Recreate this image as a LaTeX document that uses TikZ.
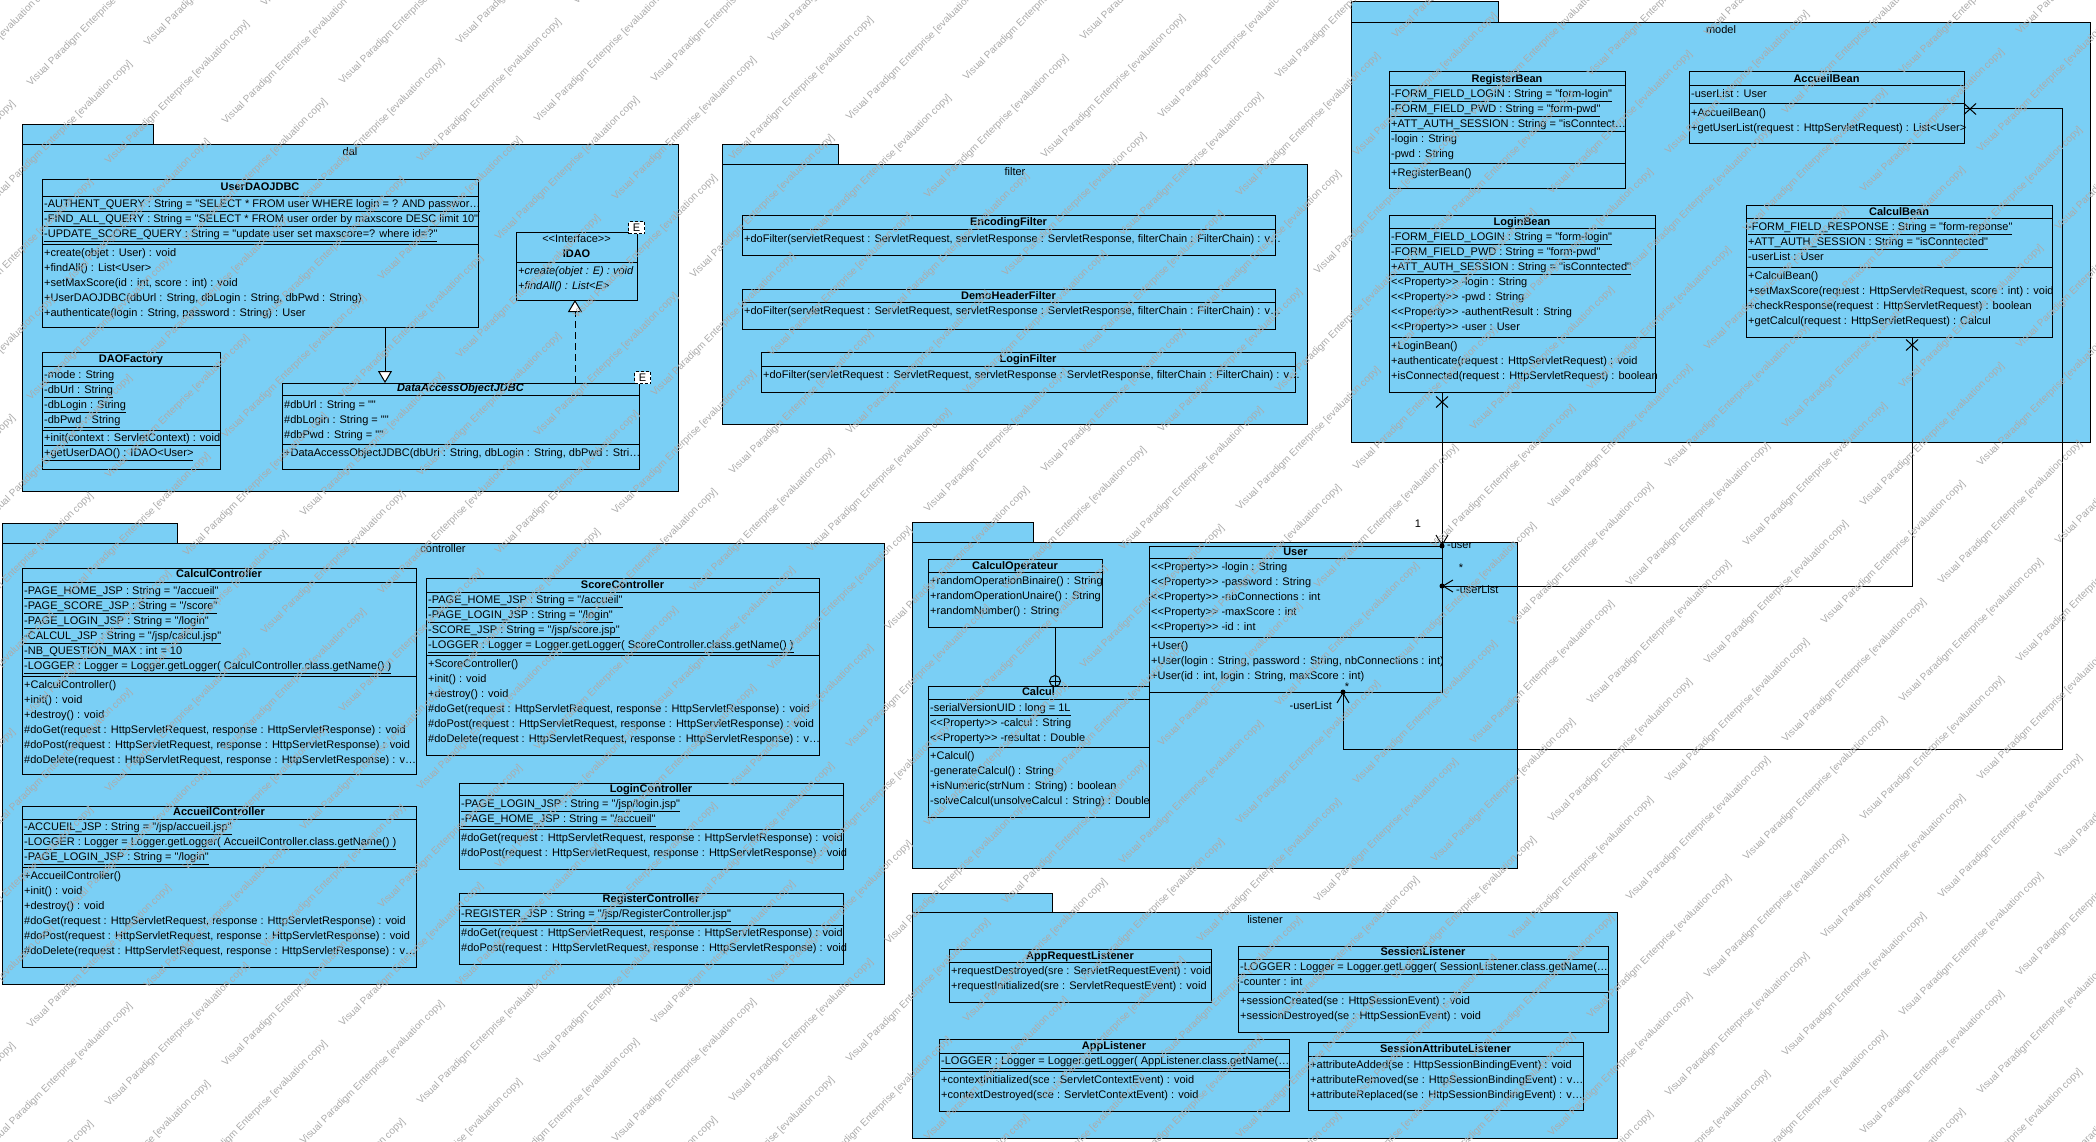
\documentclass[tikz,border=0pt]{standalone}
\usepackage{fontspec}
\setmainfont{Liberation Sans}[Ligatures=TeXOff]
\usetikzlibrary{
  arrows.meta,
  shapes.misc
}
\definecolor{vpblue}{RGB}{122,207,245}
\tikzset{>=Latex,
  txt/.style={inner sep=0pt, font=\fontsize{11}{13}\selectfont, text height=8pt, text depth=2.5pt},
  pkgtab/.style={draw, fill=vpblue, line width=1pt},
  pkgbox/.style={draw, fill=vpblue, line width=1pt, anchor=north west, inner sep=0pt, outer sep=0pt},
  cbox/.style={draw, fill=vpblue, line width=1pt, anchor=north west, inner sep=0pt, outer sep=0pt},
  ctitle/.style={txt, font=\fontsize{11}{13}\selectfont\bfseries},
  mrow/.style={txt, anchor=west},
  tparam/.style={draw, dash pattern=on 3pt off 2pt, fill=white, line width=1pt, inner sep=0pt,
    minimum width=16pt, minimum height=12pt, font=\fontsize{11}{13}\selectfont},
  gen/.style={-{Triangle[length=12pt,width=14pt,fill=white]}, line width=1pt},
  real/.style={gen, dash pattern=on 7pt off 4pt},
  assoc/.style={-{Straight Barb[length=10pt,width=12pt]}, line width=1pt},
  own/.style={circle, fill, inner sep=0pt, minimum size=5pt},
  nonav/.style={cross out, draw, line width=1pt, inner sep=0pt, minimum width=11pt, minimum height=10pt},
  nest/.style={circle, draw, fill=vpblue, line width=1pt, inner sep=0pt, minimum size=11pt},
  wmark/.style={rotate=45, anchor=west, inner sep=0pt, text=black!33, font=\fontsize{10}{12}\selectfont}
}
% package: name, x1, y tab, x tab, y body, x2, y2
\newcommand\upkg[7]{%
  \draw[pkgtab] (#2,#3) rectangle (#4,#5);
  \node[pkgbox, minimum width={#6-#2}, minimum height={#7-#5}] (#1) at (#2,#5) {};}
% class box: name, x1, y1, x2, y2
\newcommand\ubox[5]{%
  \node[cbox, minimum width={#4-#2}, minimum height={#5-#3}] (#1) at (#2,#3) {};}
\newcommand\utitle[3]{\node[ctitle] (#1-t) at (#1.north |- 0,#2) {#3};}
\newcommand\usep[2]{\draw[line width=1pt] (#1.west |- 0,#2) -- (#1.east |- 0,#2);}
% rows: name, tag, y of first row, list
\newcommand\urows[4]{%
  \foreach \rowtext [count=\rowk from 0, evaluate=\rowk as \rowy using #3+15*\rowk] in {#4}
    \node[mrow, xshift=2pt] (#1-#2\rowk) at (#1.west |- 0,\rowy) {\rowtext};}

\begin{document}
\begin{tikzpicture}[x=1pt, y=-1pt]
\fill[white] (0,0) rectangle (2096,1142);
\useasboundingbox (0,0) rectangle (2096,1142);

% dal
\upkg{dal}{22}{125}{153}{145}{678}{491}
\node[txt] (dal-l) at (350,153) {dal};
\ubox{userdao}{42}{180}{478}{327}
\utitle{userdao}{188}{UserDAOJDBC}
\usep{userdao}{197}
\usep{userdao}{244}
\urows{userdao}{a}{205}{%
{\underline{-AUTHENT\_QUERY : String = "SELECT * FROM user WHERE login = ? AND passwor\ldots}},%
{\underline{-FIND\_ALL\_QUERY : String = "SELECT * FROM user order by maxscore DESC limit 10"}},%
{\underline{-UPDATE\_SCORE\_QUERY : String = "update user set maxscore=? where id=?"}}}
\urows{userdao}{m}{254}{%
{+create(objet : User) : void},%
{+findAll() : List<User>},%
{+setMaxScore(id : int, score : int) : void},%
{+UserDAOJDBC(dbUrl : String, dbLogin : String, dbPwd : String)},%
{+authenticate(login : String, password : String) : User}}

\ubox{idao}{516}{233}{637}{300}
\node[txt] (idao-s) at (idao.north |- 0,240) {<<Interface>>};
\utitle{idao}{255}{IDAO}
\usep{idao}{262}
\urows{idao}{m}{272}{%
{\itshape +create(objet : E) : void},%
{\itshape +findAll() : List<E>}}
\node[tparam] (idao-e) at (636.5,228) {E};

\ubox{daofac}{42}{352}{220}{469}
\utitle{daofac}{360}{DAOFactory}
\usep{daofac}{366}
\usep{daofac}{430}
\urows{daofac}{a}{376}{%
{\underline{-mode : String}},%
{\underline{-dbUrl : String}},%
{\underline{-dbLogin : String}},%
{\underline{-dbPwd : String}}}
\urows{daofac}{m}{439}{%
{\underline{+init(context : ServletContext) : void}},%
{\underline{+getUserDAO() : IDAO<User>}}}

\ubox{daojdbc}{282}{383}{639}{469}
\utitle{daojdbc}{389}{\itshape DataAccessObjectJDBC}
\usep{daojdbc}{395}
\usep{daojdbc}{444}
\urows{daojdbc}{a}{406}{%
{\#dbUrl : String = ""},%
{\#dbLogin : String = ""},%
{\#dbPwd : String = ""}}
\urows{daojdbc}{m}{454}{%
{+DataAccessObjectJDBC(dbUrl : String, dbLogin : String, dbPwd : Stri\ldots}}
\node[tparam] (daojdbc-e) at (642.5,377.5) {E};

\draw[gen] (userdao.south -| 385,0) -- (daojdbc.north -| 385,0);
\draw[real] (daojdbc.north -| 575,0) -- (idao.south -| 575,0);

% filter
\upkg{filter}{722}{145}{838}{165}{1307}{424}
\node[txt] (filter-l) at (1015,173) {filter};
\ubox{encf}{742}{216}{1275}{255}
\utitle{encf}{223}{EncodingFilter}
\usep{encf}{230}
\urows{encf}{m}{240}{{+doFilter(servletRequest : ServletRequest, servletResponse : ServletResponse, filterChain : FilterChain) : v\ldots}}
\ubox{demof}{742}{289}{1275}{329}
\utitle{demof}{297}{DemoHeaderFilter}
\usep{demof}{302}
\urows{demof}{m}{312}{{+doFilter(servletRequest : ServletRequest, servletResponse : ServletResponse, filterChain : FilterChain) : v\ldots}}
\ubox{loginf}{761}{352}{1295}{392}
\utitle{loginf}{360}{LoginFilter}
\usep{loginf}{366}
\urows{loginf}{m}{376}{{+doFilter(servletRequest : ServletRequest, servletResponse : ServletResponse, filterChain : FilterChain) : v\ldots}}

% model
\upkg{model}{1351}{2}{1498}{23}{2090}{442}
\node[txt] (model-l) at (1721,31) {model};
\ubox{regbean}{1389}{72}{1625}{189}
\utitle{regbean}{80}{RegisterBean}
\usep{regbean}{86}
\usep{regbean}{164}
\urows{regbean}{a}{95}{%
{\underline{-FORM\_FIELD\_LOGIN : String = "form-login"}},%
{\underline{-FORM\_FIELD\_PWD : String = "form-pwd"}},%
{\underline{+ATT\_AUTH\_SESSION : String = "isConntect\ldots}},%
{-login : String},%
{-pwd : String}}
\urows{regbean}{m}{174}{{+RegisterBean()}}

\ubox{accbean}{1689}{72}{1964}{144}
\utitle{accbean}{80}{AccueilBean}
\usep{accbean}{86}
\usep{accbean}{104}
\urows{accbean}{a}{95}{{-userList : User}}
\urows{accbean}{m}{114}{%
{+AccueilBean()},%
{+getUserList(request : HttpServletRequest) : List<User>}}

\ubox{loginbean}{1389}{216}{1655}{392}
\utitle{loginbean}{223}{LoginBean}
\usep{loginbean}{229}
\usep{loginbean}{337}
\urows{loginbean}{a}{238}{%
{\underline{-FORM\_FIELD\_LOGIN : String = "form-login"}},%
{\underline{-FORM\_FIELD\_PWD : String = "form-pwd"}},%
{\underline{+ATT\_AUTH\_SESSION : String = "isConntected"}},%
{<<Property>> -login : String},%
{<<Property>> -pwd : String},%
{<<Property>> -authentResult : String},%
{<<Property>> -user : User}}
\urows{loginbean}{m}{347}{%
{+LoginBean()},%
{+authenticate(request : HttpServletRequest) : void},%
{+isConnected(request : HttpServletRequest) : boolean}}

\ubox{calcbean}{1746}{206}{2052}{337}
\utitle{calcbean}{213}{CalculBean}
\usep{calcbean}{219}
\usep{calcbean}{267}
\urows{calcbean}{a}{228}{%
{\underline{-FORM\_FIELD\_RESPONSE : String = "form-reponse"}},%
{\underline{+ATT\_AUTH\_SESSION : String = "isConntected"}},%
{-userList : User}}
\urows{calcbean}{m}{277}{%
{+CalculBean()},%
{+setMaxScore(request : HttpServletRequest, score : int) : void},%
{+checkResponse(request : HttpServletRequest) : boolean},%
{+getCalcul(request : HttpServletRequest) : Calcul}}

% controller
\upkg{controller}{2}{523}{177}{543}{884}{984}
\node[txt] (controller-l) at (443,550) {controller};
\ubox{calcctl}{22}{568}{416}{774}
\utitle{calcctl}{575}{CalculController}
\usep{calcctl}{582}
\usep{calcctl}{676}
\urows{calcctl}{a}{592}{%
{\underline{-PAGE\_HOME\_JSP : String = "/accueil"}},%
{\underline{-PAGE\_SCORE\_JSP : String = "/score"}},%
{\underline{-PAGE\_LOGIN\_JSP : String = "/login"}},%
{\underline{-CALCUL\_JSP : String = "/jsp/calcul.jsp"}},%
{\underline{-NB\_QUESTION\_MAX : int = 10}},%
{\underline{-LOGGER : Logger = Logger.getLogger( CalculController.class.getName() )}}}
\urows{calcctl}{m}{686}{%
{+CalculController()},%
{+init() : void},%
{+destroy() : void},%
{\#doGet(request : HttpServletRequest, response : HttpServletResponse) : void},%
{\#doPost(request : HttpServletRequest, response : HttpServletResponse) : void},%
{\#doDelete(request : HttpServletRequest, response : HttpServletResponse) : v\ldots}}

\ubox{accctl}{22}{806}{416}{967}
\utitle{accctl}{813}{AccueilController}
\usep{accctl}{819}
\usep{accctl}{867}
\urows{accctl}{a}{828}{%
{\underline{-ACCUEIL\_JSP : String = "/jsp/accueil.jsp"}},%
{\underline{-LOGGER : Logger = Logger.getLogger( AccueilController.class.getName() )}},%
{\underline{-PAGE\_LOGIN\_JSP : String = "/login"}}}
\urows{accctl}{m}{877}{%
{+AccueilController()},%
{+init() : void},%
{+destroy() : void},%
{\#doGet(request : HttpServletRequest, response : HttpServletResponse) : void},%
{\#doPost(request : HttpServletRequest, response : HttpServletResponse) : void},%
{\#doDelete(request : HttpServletRequest, response : HttpServletResponse) : v\ldots}}

\ubox{scorectl}{426}{578}{819}{755}
\utitle{scorectl}{586}{ScoreController}
\usep{scorectl}{592}
\usep{scorectl}{655}
\urows{scorectl}{a}{601}{%
{\underline{-PAGE\_HOME\_JSP : String = "/accueil"}},%
{\underline{-PAGE\_LOGIN\_JSP : String = "/login"}},%
{\underline{-SCORE\_JSP : String = "/jsp/score.jsp"}},%
{\underline{-LOGGER : Logger = Logger.getLogger( ScoreController.class.getName() )}}}
\urows{scorectl}{m}{665}{%
{+ScoreController()},%
{+init() : void},%
{+destroy() : void},%
{\#doGet(request : HttpServletRequest, response : HttpServletResponse) : void},%
{\#doPost(request : HttpServletRequest, response : HttpServletResponse) : void},%
{\#doDelete(request : HttpServletRequest, response : HttpServletResponse) : v\ldots}}

\ubox{loginctl}{459}{783}{843}{869}
\utitle{loginctl}{790}{LoginController}
\usep{loginctl}{795}
\usep{loginctl}{829}
\urows{loginctl}{a}{805}{%
{\underline{-PAGE\_LOGIN\_JSP : String = "/jsp/login.jsp"}},%
{\underline{-PAGE\_HOME\_JSP : String = "/accueil"}}}
\urows{loginctl}{m}{839}{%
{\#doGet(request : HttpServletRequest, response : HttpServletResponse) : void},%
{\#doPost(request : HttpServletRequest, response : HttpServletResponse) : void}}

\ubox{regctl}{459}{893}{843}{964}
\utitle{regctl}{900}{RegisterController}
\usep{regctl}{906}
\usep{regctl}{925}
\urows{regctl}{a}{915}{{\underline{-REGISTER\_JSP : String = "/jsp/RegisterController.jsp"}}}
\urows{regctl}{m}{934}{%
{\#doGet(request : HttpServletRequest, response : HttpServletResponse) : void},%
{\#doPost(request : HttpServletRequest, response : HttpServletResponse) : void}}

% user / calcul
\upkg{userpkg}{912}{522}{1033}{542}{1517}{868}
\ubox{calcop}{928}{559}{1102}{627}
\utitle{calcop}{567}{CalculOperateur}
\usep{calcop}{572}
\urows{calcop}{m}{582}{%
{+randomOperationBinaire() : String},%
{+randomOperationUnaire() : String},%
{+randomNumber() : String}}

\ubox{calcul}{928}{686}{1149}{817}
\utitle{calcul}{693}{Calcul}
\usep{calcul}{699}
\usep{calcul}{747}
\urows{calcul}{a}{709}{%
{\underline{-serialVersionUID : long = 1L}},%
{<<Property>> -calcul : String},%
{<<Property>> -resultat : Double}}
\urows{calcul}{m}{757}{%
{+Calcul()},%
{-generateCalcul() : String},%
{+isNumeric(strNum : String) : boolean},%
{-solveCalcul(unsolveCalcul : String) : Double}}

\ubox{user}{1149}{546}{1442}{692}
\utitle{user}{553}{User}
\usep{user}{558}
\usep{user}{637}
\urows{user}{a}{568}{%
{<<Property>> -login : String},%
{<<Property>> -password : String},%
{<<Property>> -nbConnections : int},%
{<<Property>> -maxScore : int},%
{<<Property>> -id : int}}
\urows{user}{m}{647}{%
{+User()},%
{+User(login : String, password : String, nbConnections : int)},%
{+User(id : int, login : String, maxScore : int)}}

\node[nest] (nest) at (1055,681) {};
\draw[line width=1pt] (calcop.south -| nest) -- (nest.north);
\draw (nest.north) -- (nest.south) (nest.west) -- (nest.east);

% listener
\upkg{listener}{912}{893}{1052}{912}{1617}{1138}
\node[txt] (listener-l) at (1265,921) {listener};
\ubox{appreq}{949}{949}{1211}{1002}
\utitle{appreq}{957}{AppRequestListener}
\usep{appreq}{962}
\urows{appreq}{m}{972}{%
{+requestDestroyed(sre : ServletRequestEvent) : void},%
{+requestInitialized(sre : ServletRequestEvent) : void}}

\ubox{sessl}{1238}{946}{1608}{1032}
\utitle{sessl}{953}{SessionListener}
\usep{sessl}{959}
\usep{sessl}{974}
\usep{sessl}{992}
\urows{sessl}{a}{968}{{\underline{-LOGGER : Logger = Logger.getLogger( SessionListener.class.getName(\ldots}}}
\urows{sessl}{b}{983}{{-counter : int}}
\urows{sessl}{m}{1002}{%
{+sessionCreated(se : HttpSessionEvent) : void},%
{+sessionDestroyed(se : HttpSessionEvent) : void}}

\ubox{appl}{939}{1039}{1289}{1111}
\utitle{appl}{1047}{AppListener}
\usep{appl}{1053}
\usep{appl}{1071}
\urows{appl}{a}{1062}{{\underline{-LOGGER : Logger = Logger.getLogger( AppListener.class.getName(\ldots}}}
\urows{appl}{m}{1081}{%
{+contextInitialized(sce : ServletContextEvent) : void},%
{+contextDestroyed(sce : ServletContextEvent) : void}}

\ubox{sattl}{1308}{1042}{1583}{1110}
\utitle{sattl}{1050}{SessionAttributeListener}
\usep{sattl}{1056}
\urows{sattl}{m}{1066}{%
{+attributeAdded(se : HttpSessionBindingEvent) : void},%
{+attributeRemoved(se : HttpSessionBindingEvent) : v\ldots},%
{+attributeReplaced(se : HttpSessionBindingEvent) : v\ldots}}

% associations to User
\draw[assoc] (loginbean.south -| user.north east) -- (user.north east);
\draw[assoc] (calcbean.south -| 1912,0) |- (user.east |- 0,586);
\draw[assoc] (accbean.east |- 0,109) -| (2062,749) -| (user.south -| 1343,0);
\node[nonav] (x-login) at (1442,402) {};
\node[nonav] (x-calc) at (1912,345) {};
\node[nonav] (x-acc) at (1970,109) {};
\node[own] (o-user) at (user.north east) {};
\node[own] (o-list1) at (user.east |- 0,586) {};
\node[own] (o-list2) at (user.south -| 1343,0) {};
\node[txt] (mu-1) at (1418,525) {1};
\node[txt, anchor=west] (ro-user) at (1447,546) {-user};
\node[txt] (mu-2) at (1461,569) {*};
\node[txt, anchor=west] (ro-list1) at (1456,591) {-userList};
\node[txt] (mu-3) at (1347,688) {*};
\node[txt, anchor=east] (ro-list2) at (1332,707) {-userList};

% watermark
\foreach \i in {-18,...,14}{
  \foreach \j in {-17,...,8}{
    \pgfmathsetmacro\wx{1628+78*\i+117*\j}
    \pgfmathsetmacro\wy{585+78*\i-40*\j}
    \pgfmathtruncatemacro\wok{and(and(\wx>-200,\wx<2096),and(\wy>-5,\wy<1290))}
    \ifnum\wok=1 \node[wmark] (wm\i-\j) at (\wx,\wy) {Visual Paradigm Enterprise [evaluation copy]};\fi
  }
}
\end{tikzpicture}
\end{document}
